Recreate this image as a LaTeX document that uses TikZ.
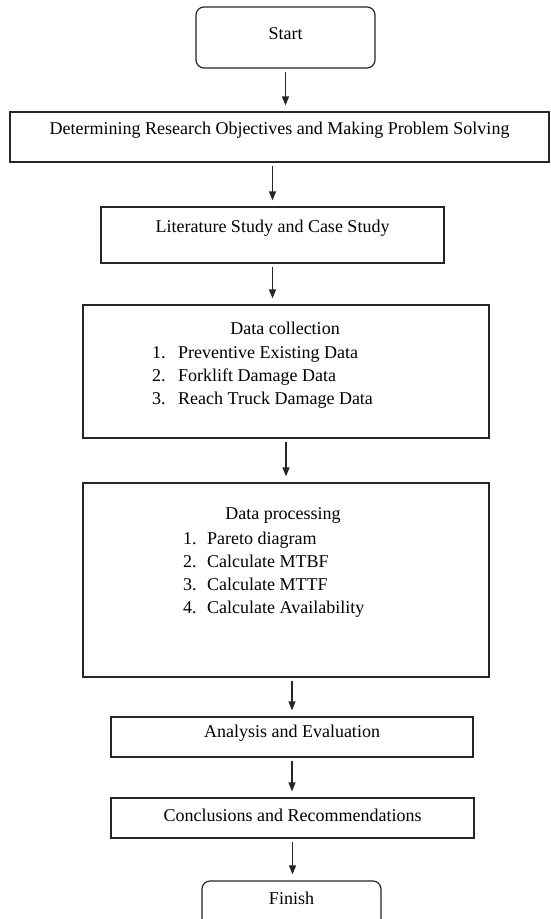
\documentclass[tikz,border=0pt]{standalone}
\usepackage{fontspec}
\setmainfont{Liberation Serif}
\usetikzlibrary{arrows.meta}

\tikzset{
  box/.style={draw=black!85, line width=1.2pt, inner sep=0pt},
  term/.style={box, rounded corners=8pt},
  txt/.style={inner sep=0pt, text height=13pt, text depth=4pt, font=\fontsize{18}{22}\selectfont},
  flow/.style={draw=black!85, line width=1.2pt, -{Triangle[width=7pt,length=9pt]}, shorten >=6pt, shorten <=3pt}
}

\begin{document}
\begin{tikzpicture}[x=1pt,y=-1pt]
\useasboundingbox (0,0) rectangle (550,919);
\clip (0,0) rectangle (550,919);
\fill[white] (0,0) rectangle (550,919);
\node[term, minimum width=179pt, minimum height=61pt] (start) at (285.5,37.5) {};
\node[box, minimum width=539pt, minimum height=50pt] (objective) at (279.5,137) {};
\node[box, minimum width=343pt, minimum height=56pt] (study) at (272.5,235) {};
\node[box, minimum width=406pt, minimum height=133pt] (collection) at (286,371.5) {};
\node[box, minimum width=406pt, minimum height=194pt] (processing) at (286,580) {};
\node[box, minimum width=362pt, minimum height=40pt] (analysis) at (292,737) {};
\node[box, minimum width=363pt, minimum height=40pt] (conclusion) at (292.5,818) {};
\node[term, minimum width=179pt, minimum height=60pt] (finish) at (291.5,911) {};
\node[txt] (starttext) at (285.5,35) {Start};
\node[txt] (objectivetext) at (279.5,130) {Determining Research Objectives and Making Problem Solving};
\node[txt] (studytext) at (272.5,228) {Literature Study and Case Study};
\node[txt] (collectiontext) at (285,330) {Data collection};
\foreach \n/\t in {1/Preventive Existing Data,2/Forklift Damage Data,3/Reach Truck Damage Data}
  \node[txt, anchor=west] (colitem\n) at (152,{331+23*\n}) {\makebox[26pt][l]{\n.}\t};
\node[txt] (processingtext) at (283,515) {Data processing};
\foreach \n/\t in {1/Pareto diagram,2/Calculate MTBF,3/Calculate MTTF,4/Calculate Availability}
  \node[txt, anchor=west] (procitem\n) at (183,{517+23*\n}) {\makebox[24pt][l]{\n.}\t};
\node[txt] (analysistext) at (292,733) {Analysis and Evaluation};
\node[txt] (conclusiontext) at (292.5,817) {Conclusions and Recommendations};
\node[txt] (finishtext) at (291.5,900) {Finish};
\draw[flow] (start.south) -- (start.south |- objective.north);
\draw[flow] (study.north |- objective.south) -- (study.north);
\draw[flow] (study.south) -- (study.south |- collection.north);
\draw[flow] (collection.south) -- (collection.south |- processing.north);
\draw[flow] (analysis.north |- processing.south) -- (analysis.north);
\draw[flow] (analysis.south) -- (analysis.south |- conclusion.north);
\draw[flow] (conclusion.south) -- (conclusion.south |- finish.north);
\end{tikzpicture}
\end{document}
